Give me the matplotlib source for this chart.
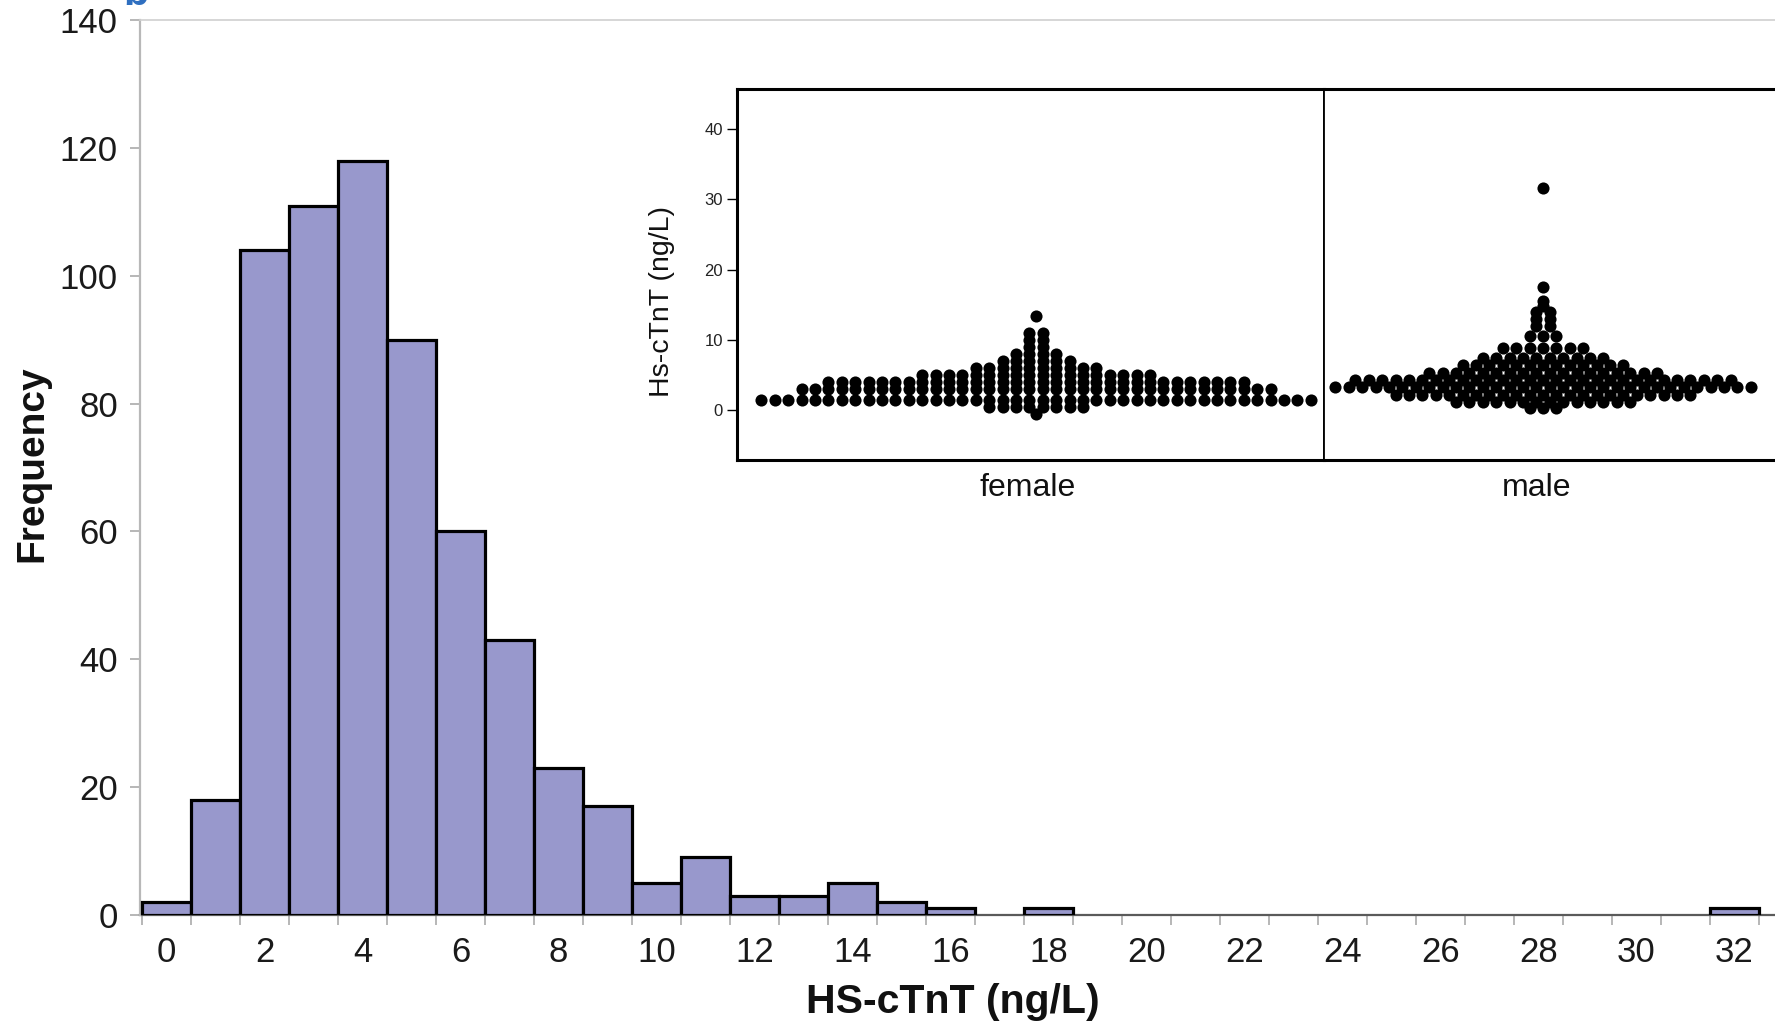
import numpy as np
import matplotlib
matplotlib.use("Agg")
import matplotlib.pyplot as plt

plt.rcParams['font.family'] = ['Liberation Sans', 'DejaVu Sans']

# ---- histogram of HS-cTnT (1 ng/L bins centred on integers) ----
hist_centers = list(range(0, 33))
hist_counts = [2, 18, 104, 111, 118, 90, 60, 43, 23, 17, 5, 9, 3, 3, 5, 2, 1,
               0, 1, 0, 0, 0, 0, 0, 0, 0, 0, 0, 0, 0, 0, 0, 1]
x_tick_labels = [str(v) for v in range(0, 33, 2)]
y_ticks = [0, 20, 40, 60, 80, 100, 120, 140]

# ---- dot plot by sex: value levels and number of subjects at each ----
female_levels = [-0.5, 0.5, 1.5, 3, 4, 5, 6, 7, 8, 9, 10, 11, 13.5]
female_counts = [1, 8, 42, 36, 32, 18, 10, 6, 4, 2, 2, 2, 1]
male_levels = [0.4, 1.2, 2.2, 3.3, 4.3, 5.3, 6.4, 7.5, 8.9, 10.6, 12, 13, 14,
               14.8, 15.5, 17.6, 31.6]
male_counts = [3, 14, 23, 32, 29, 18, 13, 10, 7, 3, 2, 2, 2, 1, 1, 1, 1]
inset_yticks = [0, 10, 20, 30, 40]

W, H = 1775, 1021
fig = plt.figure(figsize=(W / 100, H / 100), dpi=100)
fig.patch.set_facecolor('white')


def px_box(left, top, right, bottom):
    return [left / W, 1 - bottom / H, (right - left) / W, (bottom - top) / H]


# ---------------- main histogram ----------------
ax = fig.add_axes(px_box(140, 20.4, 1776, 914.7))
xs = [c for c, n in zip(hist_centers, hist_counts) if n > 0]
hs = [n for n in hist_counts if n > 0]
ax.bar(xs, hs, width=1.0, color='#9898CC', edgecolor='black', linewidth=2.3,
       zorder=3)
ax.set_xlim(-0.54, 32.85)
ax.set_ylim(0, 140)

ax.set_xticks(list(range(0, 33, 2)))
ax.set_xticklabels(x_tick_labels)
ax.set_xticks(np.arange(-0.5, 33.0, 1.0), minor=True)
ax.tick_params(axis='x', which='major', length=0, pad=15, labelsize=25,
               labelcolor='#1a1a1a')
ax.tick_params(axis='x', which='minor', length=7, width=1.2, color='#aaaaaa',
               direction='out')
ax.set_yticks(y_ticks)
ax.tick_params(axis='y', length=7, width=1.2, color='#aaaaaa', pad=9,
               labelsize=25, labelcolor='#1a1a1a')

ax.spines['left'].set_color('#b8b8b8')
ax.spines['left'].set_linewidth(1.6)
ax.spines['top'].set_color('#d0d0d0')
ax.spines['top'].set_linewidth(1.2)
ax.spines['right'].set_visible(False)
ax.spines['bottom'].set_color('#5a5a5a')
ax.spines['bottom'].set_linewidth(1.6)
ax.spines['bottom'].set_zorder(2)

fig.text(953 / W, 1 - 1002 / H, 'HS-cTnT (ng/L)', ha='center', va='center',
         fontsize=29.5, fontweight='bold', color='#111111')
fig.text(32 / W, 1 - 464 / H, 'Frequency', ha='center', va='center',
         rotation=90, fontsize=28, fontweight='bold', color='#111111')

# panel letter, clipped by the top edge
fig.text(136 / W, 1 - 5 / H, 'b', ha='center', va='baseline', fontsize=30,
         fontweight='bold', color='#2f6fc0')

# ---------------- inset dot plots ----------------
SPACING = 13.4  # px between neighbouring dots in a row
YLIM = (-7.04, 45.7)


def row_layout(levels, counts):
    xs_, ys_ = [], []
    for v, n in zip(levels, counts):
        offs = np.arange(n) - (n - 1) / 2.0
        xs_.extend(offs)
        ys_.extend([v] * n)
    return np.array(xs_), np.array(ys_)


top, bottom = 89, 460
f_left, f_right = 737, 1324
m_left, m_right = 1324, 1911
f_center, m_center = 1036, 1543

axf = fig.add_axes(px_box(f_left, top, f_right, bottom))
axm = fig.add_axes(px_box(m_left, top, m_right, bottom))

for a, left, right, center, levels, counts in (
        (axf, f_left, f_right, f_center, female_levels, female_counts),
        (axm, m_left, m_right, m_center, male_levels, male_counts)):
    a.set_facecolor('white')
    x, y = row_layout(levels, counts)
    a.scatter(x, y, s=76, c='black', linewidths=0, zorder=3)
    a.set_xlim((left - center) / SPACING, (right - center) / SPACING)
    a.set_ylim(*YLIM)
    a.set_xticks([])
    for side in ('top', 'bottom'):
        a.spines[side].set_linewidth(2.2)
        a.spines[side].set_color('black')

axf.spines['left'].set_linewidth(2.2)
axf.spines['right'].set_linewidth(1.3)
axm.spines['left'].set_linewidth(1.3)
axm.spines['right'].set_visible(False)
axm.set_yticks([])

axf.set_yticks(inset_yticks)
axf.tick_params(axis='y', length=7, width=1.0, pad=3, labelsize=12,
                labelcolor='#222222')

fig.text(662 / W, 1 - 301.5 / H, 'Hs-cTnT (ng/L)', ha='center', va='center',
         rotation=90, fontsize=20.5, color='#111111')
fig.text(1028 / W, 1 - 488 / H, 'female', ha='center', va='center',
         fontsize=23, color='#111111')
fig.text(1537 / W, 1 - 488 / H, 'male', ha='center', va='center',
         fontsize=23, color='#111111')

fig.savefig('out.png', dpi=100, facecolor='white')
